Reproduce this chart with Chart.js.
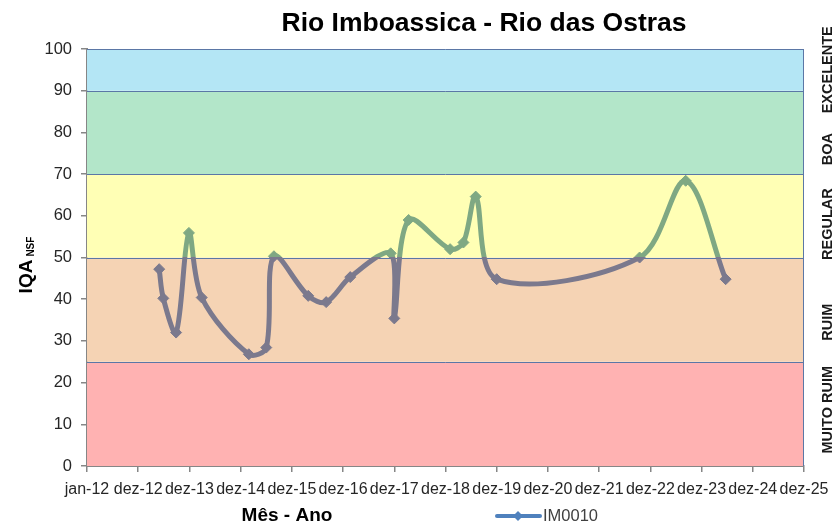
<!DOCTYPE html>
<html>
<head>
<meta charset="utf-8">
<script src="https://cdn.jsdelivr.net/npm/chart.js@4/dist/chart.umd.min.js"></script>
<style>
  html, body { margin: 0; padding: 0; background: #ffffff; }
  #wrap { width: 837px; height: 526px; }
</style>
</head>
<body>
<div id="wrap"><canvas id="c" width="837" height="526"></canvas></div>
<script>
// ---- data ----
const chartTitle = "Rio Imboassica - Rio das Ostras";
const seriesName = "IM0010";
const xTitle = "Mês - Ano";
const yTitleMain = "IQA";
const yTitleSub = "NSF";
// x tick labels (one per year, starting jan-12)
const tickLabels = ["jan-12","dez-12","dez-13","dez-14","dez-15","dez-16","dez-17","dez-18","dez-19","dez-20","dez-21","dez-22","dez-23","dez-24","dez-25"];
// sample times in years elapsed since jan-12
const sampleTimes = [1.41,1.49,1.74,1.99,2.24,3.16,3.50,3.65,4.32,4.67,5.14,5.93,6.00,6.28,7.09,7.35,7.59,8.00,10.79,11.69,12.47];
// IQA values
const iqaValues = [47.2,40.2,32.0,55.9,40.4,26.8,28.4,50.3,40.8,39.3,45.3,51.0,35.4,59.0,52.0,53.6,64.6,44.8,50.0,68.4,44.8];
// quality classes
const bandLimits = [0,25,50,70,90,100];
const bandNames = ["MUITO RUIM","RUIM","REGULAR","BOA","EXCELENTE"];
const yTicks = [0,10,20,30,40,50,60,70,80,90,100];

// ---- styles ----
const bandColors = ["#FFB2B2","#F5D3B4","#FFFFB5","#B3E6C9","#B4E6F5"];
const bandLabelPos = [13.5, 34.5, 58, 76, 95];
const lineAbove = "#7FA883";
const lineBelow = "#7B798D";
const splitValue = 50;
const FONT = "'Liberation Sans', Arial, sans-serif";

const points = sampleTimes.map((t, i) => ({ x: t, y: iqaValues[i] }));

function splitGradient(ctx) {
  const chart = ctx.chart;
  const area = chart.chartArea;
  if (!area) return lineBelow;
  const yp = chart.scales.y.getPixelForValue(splitValue);
  const f = Math.min(1, Math.max(0, (yp - area.top) / (area.bottom - area.top)));
  const g = chart.ctx.createLinearGradient(0, area.top, 0, area.bottom);
  g.addColorStop(0, lineAbove);
  g.addColorStop(f, lineAbove);
  g.addColorStop(f, lineBelow);
  g.addColorStop(1, lineBelow);
  return g;
}

const bandsPlugin = {
  id: 'bands',
  beforeDatasetsDraw(chart) {
    const { ctx, chartArea: a, scales: { y } } = chart;
    ctx.save();
    for (let i = 0; i < bandColors.length; i++) {
      const top = y.getPixelForValue(bandLimits[i + 1]);
      const bot = y.getPixelForValue(bandLimits[i]);
      ctx.fillStyle = bandColors[i];
      ctx.fillRect(a.left, top, a.right - a.left, bot - top);
    }
    ctx.strokeStyle = "#5B77A6";
    ctx.lineWidth = 1;
    for (let i = 1; i < bandLimits.length; i++) {
      const yy = Math.round(y.getPixelForValue(bandLimits[i])) + 0.5;
      ctx.beginPath(); ctx.moveTo(a.left, yy); ctx.lineTo(a.right, yy); ctx.stroke();
    }
    ctx.beginPath(); ctx.moveTo(Math.round(a.right) - 0.5, a.top); ctx.lineTo(Math.round(a.right) - 0.5, a.bottom); ctx.stroke();
    ctx.restore();
  }
};

const textPlugin = {
  id: 'texts',
  afterDraw(chart) {
    const { ctx, chartArea: a, scales: { y } } = chart;
    ctx.save();
    // title
    ctx.fillStyle = "#000000";
    ctx.font = "bold 26.5px " + FONT;
    ctx.textAlign = "center";
    ctx.textBaseline = "middle";
    ctx.fillText(chartTitle, 484, 24);
    // right band labels
    ctx.font = "bold 14.5px " + FONT;
    ctx.fillStyle = "#1a1a1a";
    for (let i = 0; i < bandNames.length; i++) {
      ctx.save();
      ctx.translate(828, y.getPixelForValue(bandLabelPos[i]));
      ctx.rotate(-Math.PI / 2);
      ctx.textAlign = "center";
      ctx.textBaseline = "middle";
      ctx.fillText(bandNames[i], 0, 0);
      ctx.restore();
    }
    // y title
    ctx.save();
    ctx.translate(27, 265);
    ctx.rotate(-Math.PI / 2);
    ctx.fillStyle = "#000000";
    ctx.font = "bold 19px " + FONT;
    ctx.textAlign = "center";
    ctx.textBaseline = "middle";
    const w = ctx.measureText(yTitleMain).width;
    ctx.font = "bold 10px " + FONT;
    const ws = ctx.measureText(yTitleSub).width;
    const start = -(w + 3 + ws) / 2;
    ctx.textAlign = "left";
    ctx.font = "bold 19px " + FONT;
    ctx.fillText(yTitleMain, start, 0);
    ctx.font = "bold 10px " + FONT;
    ctx.fillText(yTitleSub, start + w + 3, 4);
    ctx.restore();
    // x title
    ctx.fillStyle = "#000000";
    ctx.font = "bold 19px " + FONT;
    ctx.textAlign = "center";
    ctx.textBaseline = "middle";
    ctx.fillText(xTitle, 287, 516);
    // legend
    ctx.strokeStyle = "#4F81BD";
    ctx.lineWidth = 4;
    ctx.lineCap = "round";
    ctx.beginPath(); ctx.moveTo(497, 516); ctx.lineTo(540, 516); ctx.stroke();
    ctx.fillStyle = "#4F81BD";
    ctx.beginPath();
    ctx.moveTo(518, 511); ctx.lineTo(523, 516); ctx.lineTo(518, 521); ctx.lineTo(513, 516); ctx.closePath(); ctx.fill();
    ctx.fillStyle = "#404040";
    ctx.font = "16.5px " + FONT;
    ctx.textAlign = "left";
    ctx.fillText(seriesName, 543, 516);
    ctx.restore();
  }
};

new Chart(document.getElementById('c'), {
  type: 'line',
  data: {
    datasets: [{
      label: seriesName,
      data: points,
      borderColor: splitGradient,
      backgroundColor: splitGradient,
      pointBackgroundColor: splitGradient,
      pointBorderColor: splitGradient,
      borderWidth: 5,
      tension: 0.33,
      pointStyle: 'rectRot',
      pointRadius: 5.5,
      pointBorderWidth: 1,
      fill: false
    }]
  },
  options: {
    responsive: false,
    animation: false,
    devicePixelRatio: 1,
    layout: { padding: { top: 49, right: 33, bottom: 0, left: 0 } },
    plugins: { legend: { display: false }, title: { display: false }, tooltip: { enabled: false } },
    scales: {
      x: {
        type: 'linear',
        min: 0, max: tickLabels.length - 1,
        afterFit(s) { s.height = 60; },
        afterBuildTicks(s) { s.ticks = tickLabels.map((_, i) => ({ value: i })); },
        ticks: {
          autoSkip: false, maxRotation: 0, minRotation: 0,
          padding: 8, color: "#262626",
          font: { family: FONT, size: 16 },
          callback: (v) => tickLabels[v]
        },
        grid: { drawOnChartArea: false, drawTicks: true, tickLength: 6, color: "#868686", lineWidth: 1.5 },
        border: { display: true, color: "#868686", width: 2 }
      },
      y: {
        min: 0, max: 100,
        afterFit(s) { s.width = 87; },
        afterBuildTicks(s) { s.ticks = yTicks.map(v => ({ value: v })); },
        ticks: {
          padding: 9, color: "#262626",
          font: { family: FONT, size: 16.5 }
        },
        grid: { drawOnChartArea: false, drawTicks: true, tickLength: 6, color: "#868686", lineWidth: 1.5 },
        border: { display: true, color: "#868686", width: 2 }
      }
    }
  },
  plugins: [bandsPlugin, textPlugin]
});
</script>
</body>
</html>
